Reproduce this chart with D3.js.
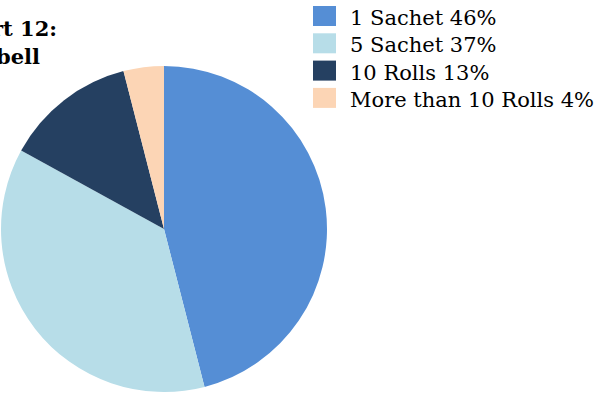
<!DOCTYPE html>
<html>
<head>
<meta charset="utf-8">
<script src="https://cdn.jsdelivr.net/npm/d3@7"></script>
<style>
  html, body { margin: 0; padding: 0; background: #fff; }
  svg { display: block; }
</style>
</head>
<body>
<svg id="chart" width="602" height="393"></svg>
<script>
// Purchase size shares
const categories = ["1 Sachet", "5 Sachet", "10 Rolls", "More than 10 Rolls"];
const shares = [46, 37, 13, 4];
const colors = ["#558ed5", "#b7dde8", "#254061", "#fcd5b5"];
const titleLines = ["Chart 12:", "Campbell"];

const svg = d3.select("#chart");
const cx = 164, cy = 229, radius = 163;

const data = categories.map((c, i) => ({ name: c, value: shares[i], color: colors[i] }));

const pie = d3.pie().value(d => d.value).sort(null);
const arc = d3.arc().innerRadius(0).outerRadius(radius);

svg.append("g")
  .attr("transform", `translate(${cx},${cy})`)
  .selectAll("path")
  .data(pie(data))
  .join("path")
  .attr("d", arc)
  .attr("fill", d => d.data.color);

// Title, right-aligned per line
const titleEnds = [57, 40];
const titleBase = [36, 64];
svg.append("g")
  .selectAll("text")
  .data(titleLines)
  .join("text")
  .attr("x", (d, i) => titleEnds[i])
  .attr("y", (d, i) => titleBase[i])
  .attr("text-anchor", "end")
  .attr("font-family", "'DejaVu Serif', serif")
  .attr("font-weight", "bold")
  .attr("font-size", 21)
  .attr("fill", "#000")
  .text(d => d);

// Legend
const legend = svg.append("g").attr("transform", "translate(313,6)");
const rowH = 27.3;
const rows = legend.selectAll("g")
  .data(data)
  .join("g")
  .attr("transform", (d, i) => `translate(0,${i * rowH})`);
rows.append("rect")
  .attr("width", 23).attr("height", 20)
  .attr("fill", d => d.color);
rows.append("text")
  .attr("x", 37).attr("y", 19)
  .attr("font-family", "'DejaVu Serif', serif")
  .attr("font-size", 21)
  .attr("fill", "#000")
  .text(d => `${d.name} ${d.value}%`);
</script>
</body>
</html>
